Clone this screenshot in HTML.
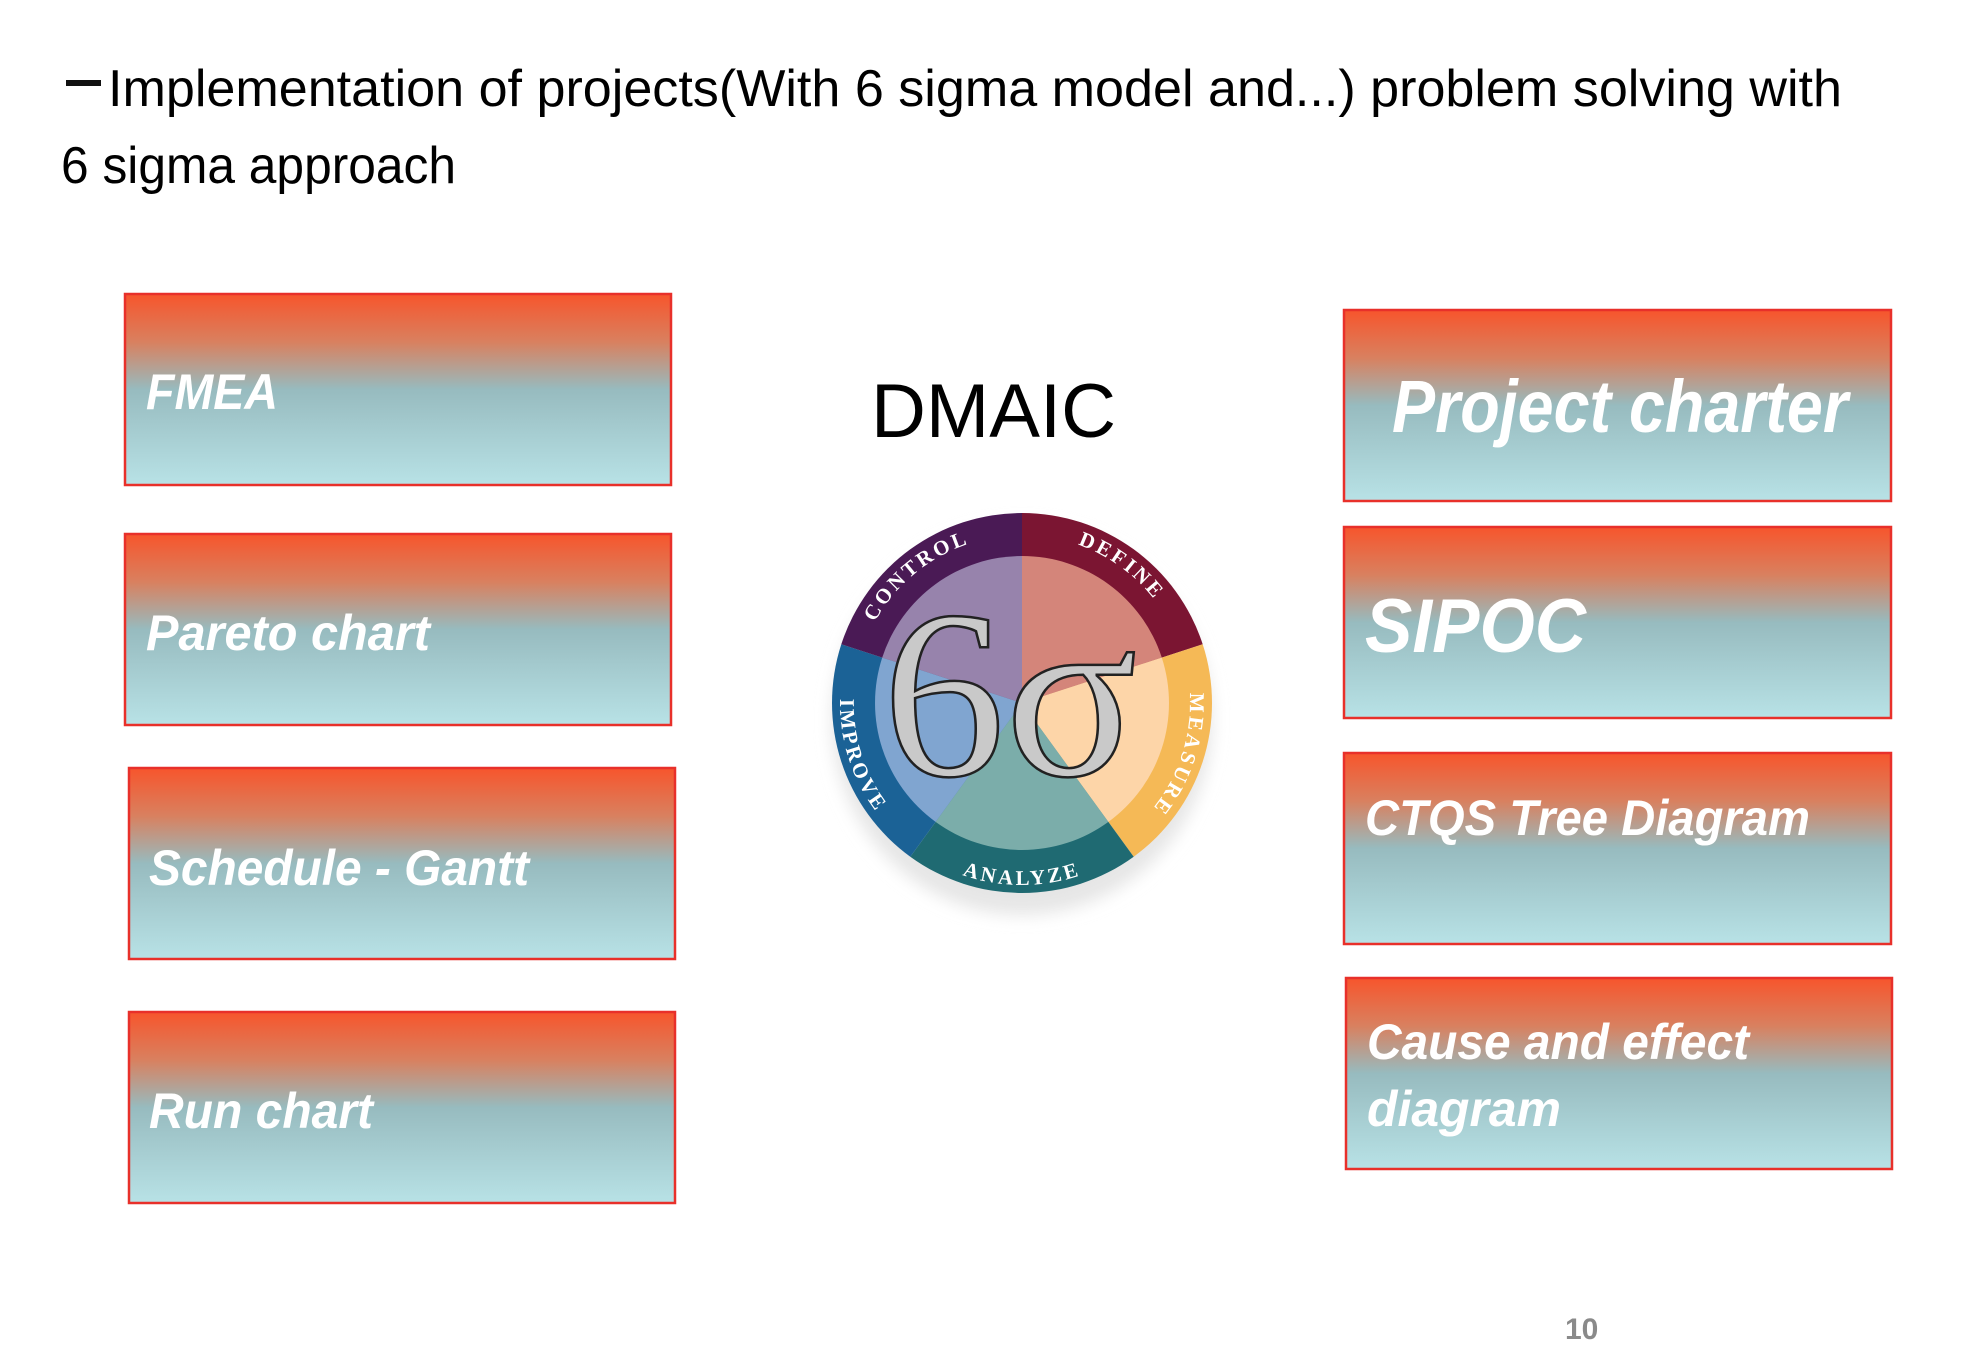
<!DOCTYPE html>
<html><head><meta charset="utf-8"><style>
html,body{margin:0;padding:0;background:#fff;}
svg{display:block;}
</style></head><body>
<svg width="1973" height="1356" viewBox="0 0 1973 1356" xmlns="http://www.w3.org/2000/svg">
<defs>
<linearGradient id="g" x1="0" y1="0" x2="0" y2="1">
<stop offset="0" stop-color="#f7552c"/>
<stop offset="0.25" stop-color="#d9805f"/>
<stop offset="0.5" stop-color="#97bbbf"/>
<stop offset="1" stop-color="#b8e2e6"/>
</linearGradient>
<filter id="blur"><feGaussianBlur stdDeviation="8"/></filter>
<path id="cw" d="M1022,535 A168,168 0 1 1 1021.9,535"/>
<path id="ccw" d="M848.9,646.8 A182,182 0 0 0 1129,850.2"/>
</defs>
<rect width="1973" height="1356" fill="#fff"/>

<!-- title -->
<rect x="66" y="80" width="35" height="6" fill="#111"/>
<g font-family="Liberation Sans Narrow, Liberation Sans, sans-serif" font-size="52" fill="#000">
<text x="108" y="106" textLength="1734" lengthAdjust="spacingAndGlyphs">Implementation of projects(With 6 sigma model and...) problem solving with</text>
<text x="61" y="183" textLength="395" lengthAdjust="spacingAndGlyphs">6 sigma approach</text>
</g>

<!-- boxes -->
<g fill="url(#g)" stroke="#e8302a" stroke-width="2.5">
<rect x="125" y="294" width="546" height="191"/>
<rect x="125" y="534" width="546" height="191"/>
<rect x="129" y="768" width="546" height="191"/>
<rect x="129" y="1012" width="546" height="191"/>
<rect x="1344" y="310" width="547" height="191"/>
<rect x="1344" y="527" width="547" height="191"/>
<rect x="1344" y="753" width="547" height="191"/>
<rect x="1346" y="978" width="546" height="191"/>
</g>
<g font-family="Liberation Sans Narrow, Liberation Sans, sans-serif" font-weight="bold" font-style="italic" fill="#fff" font-size="50">
<text x="146" y="409" textLength="132" lengthAdjust="spacingAndGlyphs">FMEA</text>
<text x="146" y="650" textLength="284" lengthAdjust="spacingAndGlyphs">Pareto chart</text>
<text x="149" y="885" textLength="380" lengthAdjust="spacingAndGlyphs">Schedule - Gantt</text>
<text x="149" y="1128" textLength="224" lengthAdjust="spacingAndGlyphs">Run chart</text>
<text x="1365" y="835" textLength="445" lengthAdjust="spacingAndGlyphs">CTQS Tree Diagram</text>
<text x="1367" y="1059" textLength="382" lengthAdjust="spacingAndGlyphs">Cause and effect</text>
<text x="1367" y="1126" textLength="194" lengthAdjust="spacingAndGlyphs">diagram</text>
<text x="1365" y="652" font-size="76" textLength="221" lengthAdjust="spacingAndGlyphs">SIPOC</text>
</g>
<text x="1392" y="432" font-family="Liberation Sans, sans-serif" font-weight="bold" font-style="italic" fill="#fff" font-size="74" textLength="456" lengthAdjust="spacingAndGlyphs">Project charter</text>

<text x="871" y="437" font-family="Liberation Sans, sans-serif" font-size="76" fill="#000" textLength="245" lengthAdjust="spacingAndGlyphs">DMAIC</text>

<!-- 6 sigma circle -->
<ellipse cx="1022" cy="720" rx="190" ry="195" fill="#e6e6e6" filter="url(#blur)"/>
<path d="M1022,703 L1022,513 A190,190 0 0 1 1202.7,644.3 Z" fill="#7b1532"/>
<path d="M1022,703 L1202.7,644.3 A190,190 0 0 1 1133.7,856.7 Z" fill="#f5b956"/>
<path d="M1022,703 L1133.7,856.7 A190,190 0 0 1 910.3,856.7 Z" fill="#1f6a72"/>
<path d="M1022,703 L910.3,856.7 A190,190 0 0 1 841.3,644.3 Z" fill="#1b6296"/>
<path d="M1022,703 L841.3,644.3 A190,190 0 0 1 1022,513 Z" fill="#4a1a55"/>
<path d="M1022,703 L1022,556 A147,147 0 0 1 1161.8,657.6 Z" fill="#d4857a"/>
<path d="M1022,703 L1161.8,657.6 A147,147 0 0 1 1108.4,821.9 Z" fill="#fdd5a8"/>
<path d="M1022,703 L1108.4,821.9 A147,147 0 0 1 935.6,821.9 Z" fill="#7badaa"/>
<path d="M1022,703 L935.6,821.9 A147,147 0 0 1 882.2,657.6 Z" fill="#80a5d0"/>
<path d="M1022,703 L882.2,657.6 A147,147 0 0 1 1022,556 Z" fill="#9783ac"/>
<g font-family="Liberation Serif, serif" font-weight="bold" font-size="21" fill="#fff" letter-spacing="3" text-anchor="middle">
<text><textPath href="#cw" startOffset="10%">DEFINE</textPath></text>
<text><textPath href="#cw" startOffset="30%">MEASURE</textPath></text>
<text><textPath href="#cw" startOffset="89%">CONTROL</textPath></text>
<text><textPath href="#ccw" startOffset="75%">ANALYZE</textPath></text>
<text><textPath href="#ccw" startOffset="25%">IMPROVE</textPath></text>
</g>
<text x="1010" y="775" text-anchor="middle" font-family="Liberation Serif, serif" font-size="240" fill="#c9c9c9" stroke="#222" stroke-width="2.5" textLength="255" lengthAdjust="spacingAndGlyphs">6σ</text>

<text x="1565" y="1339" font-family="Liberation Sans Narrow, Liberation Sans, sans-serif" font-weight="bold" font-size="30" fill="#8a8a8a">10</text>
</svg>
</body></html>
